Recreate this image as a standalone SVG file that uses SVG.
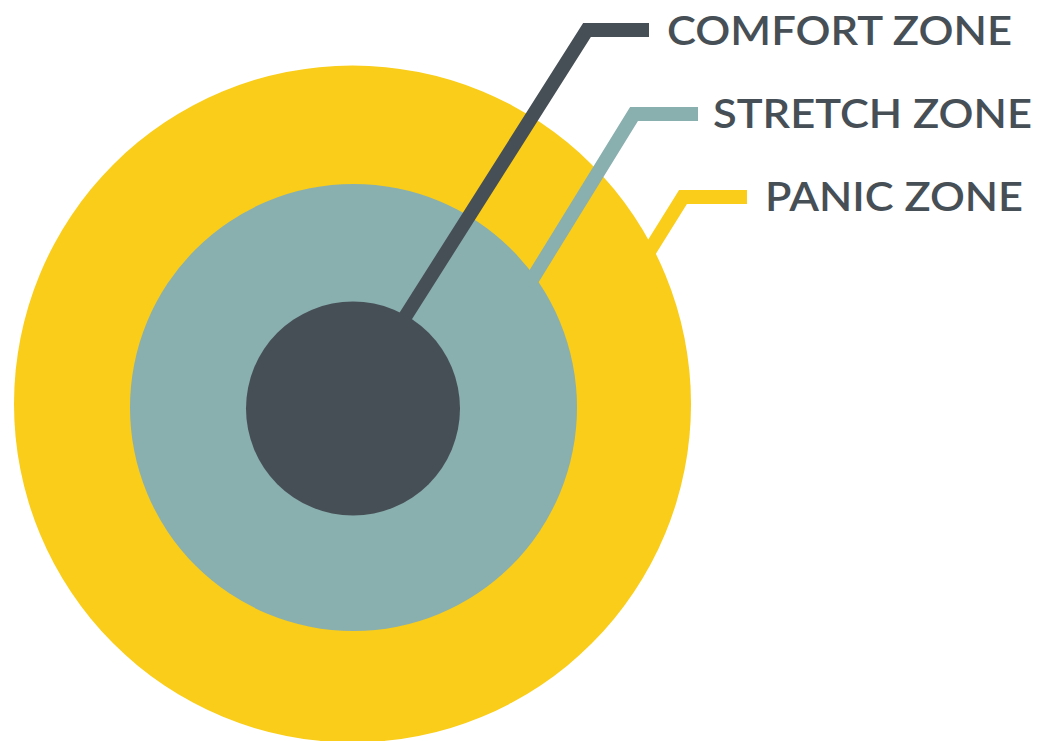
<svg xmlns="http://www.w3.org/2000/svg" width="1040" height="741" viewBox="0 0 1040 741">
  <style>
    .lbl { font-family: "Lato", "Liberation Sans", sans-serif; font-weight: 600; font-size: 40px; fill: #474f56; }
    .conn { fill: none; stroke-width: 14; stroke-linejoin: miter; stroke-linecap: butt; }
  </style>
  <rect width="1040" height="741" fill="#ffffff"/>
  <g id="panic-zone">
    <circle cx="352.5" cy="404" r="338.5" fill="#f9cd1a"/>
  </g>
  <g id="stretch-zone">
    <circle cx="353.5" cy="407.5" r="223.5" fill="#89afaf"/>
  </g>
  <g id="connectors">
    <path class="conn" stroke="#f9cd1a" d="M 747 197 L 683 197 L 645 258"/>
    <path class="conn" stroke="#89afaf" d="M 698 114 L 634 114 L 528 286"/>
    <path class="conn" stroke="#474f56" d="M 649 30 L 587 30 L 400 325"/>
  </g>
  <g id="comfort-zone">
    <circle cx="353" cy="408.5" r="107" fill="#474f56"/>
  </g>
  <g id="labels">
    <text id="label-comfort" class="lbl" x="667" y="45" textLength="345" lengthAdjust="spacingAndGlyphs">COMFORT ZONE</text>
    <text id="label-stretch" class="lbl" x="713" y="128" textLength="319" lengthAdjust="spacingAndGlyphs">STRETCH ZONE</text>
    <text id="label-panic" class="lbl" x="765" y="211" textLength="258" lengthAdjust="spacingAndGlyphs">PANIC ZONE</text>
  </g>
</svg>
